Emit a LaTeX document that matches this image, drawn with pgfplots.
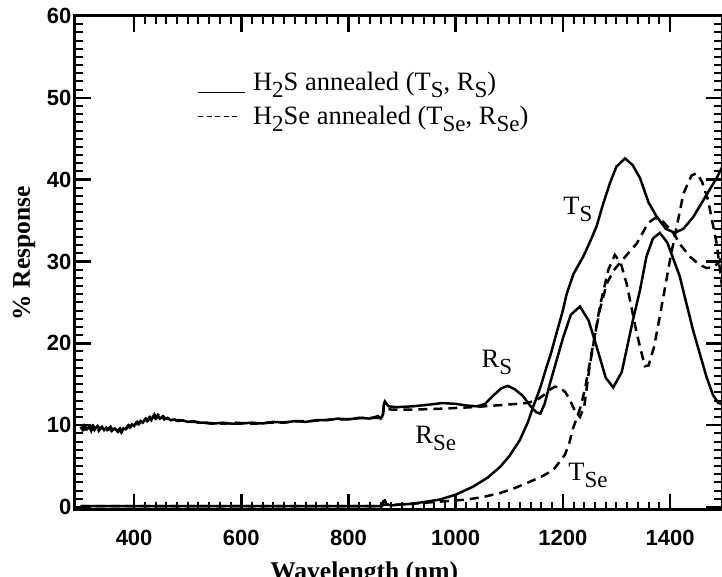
\documentclass[border=0pt]{standalone}
\usepackage{fontspec}
\setmainfont{Liberation Serif}
\newfontfamily\tickfont{Liberation Sans}
\usepackage{pgfplots}
\pgfplotsset{compat=1.18}
\newcommand\sub[1]{\raisebox{-7pt}{\fontsize{23}{23}\selectfont #1}}
\newcommand\annfont{\fontsize{26.5}{28}\selectfont}

\begin{document}
\begin{tikzpicture}
\begin{axis}[
  name=main,
  at={(0,0)}, anchor=south west,
  scale only axis,
  width=647pt, height=494pt,
  xmin=289.7, xmax=1497,
  ymin=-0.37, ymax=60,
  xtick={400,600,...,1400},
  ytick={0,10,...,60},
  minor x tick num=9,
  minor y tick num=9,
  tick align=inside,
  major tick length=16pt,
  minor tick length=8pt,
  major tick style={line width=2.5pt, black},
  minor tick style={line width=2pt, black},
  axis line style={line width=3pt},
  /pgf/number format/assume math mode=true,
  /pgf/number format/1000 sep={},
  ticklabel style={font=\tickfont\bfseries\fontsize{22}{22}\selectfont},
  xticklabel style={yshift=-17pt},
  xlabel={Wavelength (nm)},
  ylabel={\% Response},
  label style={font=\bfseries\fontsize{25.5}{25.5}\selectfont},
  xlabel style={at={(axis description cs:0.447,0)}, anchor=base, yshift=-70pt},
  ylabel style={at={(axis description cs:-0.0788,0.52)}, anchor=center},
  legend style={draw=none, fill=none, at={(axis description cs:0.185,0.894)}, anchor=north west,
    font=\annfont, /tikz/row sep=10pt, /tikz/column sep=5pt},
  legend cell align=left,
]
% R_S (H2S annealed, reflectance)
\addplot[black, line width=2.5pt, legend image code/.code={\draw[black, line width=1.2pt] (0pt,-10pt) -- (47pt,-10pt);}] coordinates {
(300,9.8)(304,9.4)(308,9.9)(312,9.5)(316,9.8)(320,9.3)(324,9.9)(328,9.6)(332,9.9)(336,9.5)
(340,9.8)(344,9.4)(348,9.7)(352,9.5)(356,9.8)(360,9.4)(364,9.6)(368,9.3)(372,9.5)(376,9.1)
(380,9.6)(384,9.5)(388,9.9)(392,9.7)(396,10.1)(400,9.9)(404,10.3)(408,10.1)(412,10.5)(416,10.3)
(420,10.7)(424,10.5)(428,10.9)(432,10.6)(436,11.1)(440,10.8)(444,11.2)(448,10.8)(452,11.0)(456,10.7)
(462,10.9)(468,10.6)(475,10.7)(482,10.5)(490,10.6)(500,10.4)(510,10.5)(520,10.3)(535,10.3)(550,10.2)
(565,10.3)(580,10.2)(600,10.2)(620,10.3)(640,10.2)(660,10.4)(680,10.3)(700,10.5)(720,10.4)(740,10.6)
(760,10.6)(780,10.8)(800,10.7)(820,10.9)(840,10.8)(855,11.1)(860,10.8)
(864,11.2)(866,12.6)(868,12.9)(871,12.6)(875,12.3)(890,12.2)(920,12.3)(950,12.5)(975,12.7)
(1000,12.6)(1020,12.4)(1040,12.3)(1055,12.6)(1070,13.6)(1085,14.5)(1097,14.8)(1110,14.4)(1125,13.6)
(1140,12.3)(1150,11.6)(1158,11.4)(1166,12.6)(1176,15.1)(1190,18.3)(1201,20.8)(1215,23.5)(1232,24.5)
(1248,22.8)(1263,19.6)(1280,15.8)(1294,14.6)(1310,16.5)(1331,22.9)(1344,26.5)(1356,30.6)(1368,32.8)
(1381,33.5)(1395,32.3)(1418,28.2)(1443,21.6)(1468,15.9)(1480,13.7)(1490,12.7)(1497,12.6)
};
\addlegendentry{H\sub{2}S annealed (T\sub{S}, R\sub{S})}
% R_Se (H2Se annealed, reflectance)
\addplot[black, line width=2.5pt, dash pattern=on 9pt off 6pt, legend image code/.code={\draw[black, line width=1.2pt, dash pattern=on 5pt off 3.5pt] (0pt,0pt) -- (42pt,0pt);}] coordinates {
(302,9.5)(306,9.9)(310,9.3)(314,9.7)(318,9.6)(322,9.9)(326,9.4)(330,9.8)(334,9.3)(338,9.7)
(342,9.6)(346,9.9)(350,9.4)(354,9.6)(358,9.3)(362,9.7)(366,9.5)(370,9.2)(374,9.6)(378,9.3)
(382,9.8)(386,9.6)(390,10.0)(394,9.8)(398,10.2)(402,10.0)(406,10.4)(410,10.2)(414,10.6)(418,10.4)
(422,10.8)(426,10.6)(430,11.0)(434,10.8)(438,11.3)(442,10.9)(446,11.4)(450,10.9)(454,11.1)(458,10.8)
(464,10.8)(470,10.7)(478,10.6)(486,10.6)(495,10.5)(505,10.4)(515,10.4)(528,10.3)(542,10.2)(558,10.2)
(572,10.2)(590,10.3)(610,10.2)(630,10.2)(650,10.3)(670,10.3)(690,10.4)(710,10.5)(730,10.5)(750,10.6)
(770,10.7)(790,10.7)(810,10.8)(830,10.9)(848,10.9)(860,10.9)
(864,11.1)(866,12.3)(869,12.4)(873,12.0)(880,11.9)(920,11.9)(970,12.0)(1033,12.2)(1095,12.5)
(1132,12.7)(1150,13.0)(1165,13.7)(1175,14.3)(1185,14.7)(1195,14.6)(1205,14.0)(1213,13.1)(1222,11.8)
(1232,11.0)(1240,12.3)(1250,17.2)(1260,21.0)(1269,24.5)(1285,29.0)(1297,30.8)(1308,29.8)(1319,27.3)
(1338,21.2)(1353,17.2)(1360,17.3)(1370,19.5)(1381,23.3)(1400,30.2)(1425,38.3)(1440,40.5)(1450,40.8)
(1460,39.7)(1471,37.5)(1487,32.2)(1497,27.0)
};
\addlegendentry{H\sub{2}Se annealed (T\sub{Se}, R\sub{Se})}
% T_S (H2S annealed, transmittance)
\addplot[black, line width=2.5pt, forget plot] coordinates {
(300,0.1)(500,0.1)(700,0.1)(862,0.1)(865,0.7)(868,0.8)(871,0.3)(880,0.2)(920,0.4)(970,0.9)
(1000,1.5)(1033,2.5)(1060,3.6)(1083,4.9)(1100,6.2)(1120,8.2)(1135,10.4)(1145,12.3)(1158,14.6)
(1170,17.2)(1178,18.8)(1188,21.2)(1200,24.0)(1207,26.0)(1220,28.5)(1238,30.6)(1250,32.3)(1263,34.3)
(1275,37.0)(1288,39.6)(1300,41.6)(1316,42.6)(1330,41.8)(1344,40.2)(1360,37.2)(1375,35.5)(1392,34.0)
(1409,33.5)(1425,34.0)(1443,35.4)(1465,37.8)(1487,40.2)(1497,41.5)
};
% T_Se (H2Se annealed, transmittance)
\addplot[black, line width=2.5pt, dash pattern=on 9pt off 6pt, forget plot] coordinates {
(300,0.1)(500,0.1)(700,0.1)(862,0.1)(866,0.3)(900,0.3)(939,0.5)(980,0.7)(1020,0.9)(1050,1.2)
(1083,1.7)(1110,2.3)(1132,2.9)(1160,3.7)(1182,4.5)(1195,5.6)(1204,6.4)(1212,7.8)(1219,9.6)
(1232,12.0)(1241,14.3)(1257,20.0)(1269,24.1)(1282,27.3)(1295,28.9)(1306,29.8)(1322,31.0)(1338,32.2)
(1359,34.7)(1372,35.3)(1385,35.0)(1406,33.5)(1420,32.0)(1437,30.6)(1455,29.6)(1468,29.2)(1480,29.3)
(1490,29.8)(1497,30.6)
};
\node[font=\annfont] at (axis cs:1228,36.3) {T\sub{S}};
\node[font=\annfont] at (axis cs:1077,17.7) {R\sub{S}};
\node[font=\annfont] at (axis cs:963,8.4) {R\sub{Se}};
\node[font=\annfont] at (axis cs:1247,3.9) {T\sub{Se}};
\end{axis}
\pgfresetboundingbox
\path[use as bounding box] (main.south west) ++(-75pt,-67pt) rectangle ++(722pt,577pt);
\end{tikzpicture}
\end{document}
